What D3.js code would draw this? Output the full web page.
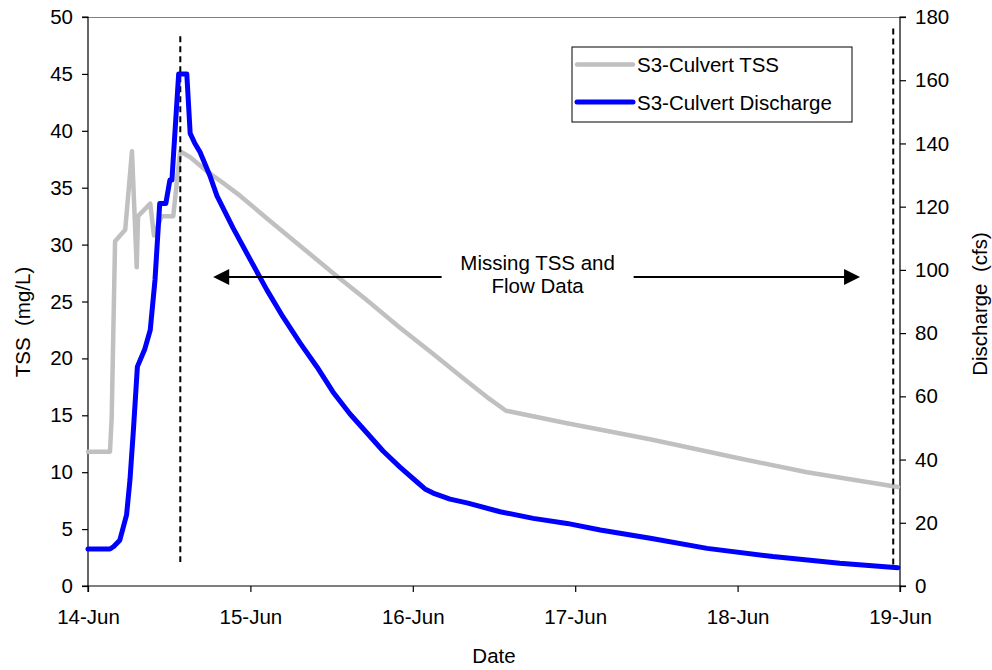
<!DOCTYPE html>
<html>
<head>
<meta charset="utf-8">
<script src="https://cdn.jsdelivr.net/npm/d3@7"></script>
<style>
  html, body { margin: 0; padding: 0; background: #fff; }
  svg { display: block; font-family: Arial, "Liberation Sans", sans-serif; }
</style>
</head>
<body>
<svg id="chart" width="992" height="670"></svg>
<script>
// ---- Data (hours since 14-Jun 00:00) ----
const tssHours = [0, 3.25, 3.5, 4.0, 5.5, 6.5, 7.2, 7.4, 9.2, 9.75, 10.9, 12.6, 13.6, 15.07, 17.66, 20.0, 22.46, 26.45, 31.33, 36.2, 41.23, 46.1, 50.98, 56.0, 58.96, 61.77, 70.79, 83.05, 96.35, 106.25, 119.7];
const tssValues = [11.8, 11.8, 14.8, 30.3, 31.3, 38.2, 28.0, 32.5, 33.6, 30.8, 32.5, 32.5, 38.2, 37.7, 36.4, 35.4, 34.3, 32.3, 29.9, 27.5, 25.1, 22.7, 20.4, 18.0, 16.6, 15.4, 14.3, 12.9, 11.2, 10.0, 8.7];

const qHours = [0, 3.25, 3.8, 4.7, 5.7, 6.2, 6.7, 7.3, 8.4, 9.2, 9.9, 10.6, 11.5, 12.1, 12.4, 13.4, 14.6, 15.1, 15.8, 16.55, 18.03, 19.06, 21.43, 23.94, 26.45, 28.82, 31.33, 33.84, 36.2, 38.72, 41.23, 43.6, 46.1, 48.62, 49.8, 51.0, 53.5, 56.0, 60.9, 65.8, 70.8, 75.7, 83.1, 91.5, 101.2, 111.1, 119.7];
const qValues = [11.7, 11.7, 12.5, 14.5, 22.5, 33.5, 49.0, 69.4, 75.0, 81.0, 96.8, 121.0, 121.0, 128.4, 128.4, 162.0, 162.0, 143.2, 140.0, 137.3, 129.7, 123.4, 113.3, 103.4, 93.6, 85.1, 76.9, 69.3, 61.4, 54.4, 48.4, 42.7, 37.6, 32.9, 30.7, 29.4, 27.5, 26.3, 23.5, 21.4, 19.8, 17.7, 15.1, 11.9, 9.3, 7.2, 5.8];

const xTickHours = [0, 24, 48, 72, 96, 120];
const xTickLabels = ["14-Jun", "15-Jun", "16-Jun", "17-Jun", "18-Jun", "19-Jun"];
const tssTicks = [0, 5, 10, 15, 20, 25, 30, 35, 40, 45, 50];
const qTicks = [0, 20, 40, 60, 80, 100, 120, 140, 160, 180];

const seriesNames = ["S3-Culvert TSS", "S3-Culvert Discharge"];
const seriesColors = ["#c0c0c0", "#0000ff"];

// dashed markers: [hour, tssTop, tssBottom]
const dashedMarkers = [[13.64, 48.3, 2.1], [119.0, 49.0, 1.6]];
// arrow: hours from/to, level (TSS units)
const arrowSpan = [18.5, 114.1];
const arrowLevel = 27.15;
const annotationLines = ["Missing TSS and", "Flow Data"];

// ---- Layout ----
const W = 992, H = 670;
const m = { left: 88, right: 92, top: 17, bottom: 84 };
const iw = W - m.left - m.right, ih = H - m.top - m.bottom;

const svg = d3.select("#chart");
const g = svg.append("g").attr("transform", `translate(${m.left},${m.top})`);

const x = d3.scaleLinear().domain([0, 120]).range([0, iw]);
const yL = d3.scaleLinear().domain([0, 50]).range([ih, 0]);
const yR = d3.scaleLinear().domain([0, 180]).range([ih, 0]);

const FS = 20.5;

// top border
g.append("line").attr("x1", 0).attr("x2", iw).attr("y1", 0.5).attr("y2", 0.5)
  .attr("stroke", "#808080").attr("stroke-width", 1.2);

// axes
const axL = g.append("g").call(d3.axisLeft(yL).tickValues(tssTicks).tickSize(6).tickPadding(9));
const axR = g.append("g").attr("transform", `translate(${iw},0)`)
  .call(d3.axisRight(yR).tickValues(qTicks).tickSize(6).tickPadding(9));
const axB = g.append("g").attr("transform", `translate(0,${ih})`)
  .call(d3.axisBottom(x).tickValues(xTickHours).tickFormat((d, i) => xTickLabels[i]).tickSize(6).tickPadding(17));
[axL, axR, axB].forEach(a => {
  a.selectAll("path").attr("stroke", "#000").attr("stroke-width", 1.2);
  a.selectAll("line").attr("stroke", "#000").attr("stroke-width", 1.2);
  a.selectAll("text").attr("font-size", FS).attr("fill", "#000").attr("font-family", "Arial, 'Liberation Sans', sans-serif");
});
axL.select(".domain").attr("d", `M-6,${ih}H0V0H-6`);
axR.select(".domain").attr("d", `M6,${ih}H0V0H6`);
axB.select(".domain").attr("d", `M0,6V0H${iw}V6`);

// lines
const lineTss = d3.line().x((d, i) => x(tssHours[i])).y(d => yL(d));
const lineQ = d3.line().x((d, i) => x(qHours[i])).y(d => yR(d));

g.append("path").datum(tssValues).attr("d", lineTss)
  .attr("fill", "none").attr("stroke", seriesColors[0]).attr("stroke-width", 4.5)
  .attr("stroke-linejoin", "round").attr("stroke-linecap", "round");

// dashed markers
g.selectAll(".dash").data(dashedMarkers).enter().append("line")
  .attr("x1", d => x(d[0])).attr("x2", d => x(d[0]))
  .attr("y1", d => yL(d[1])).attr("y2", d => yL(d[2]))
  .attr("stroke", "#000").attr("stroke-width", 2).attr("stroke-dasharray", "6,4");

g.append("path").datum(qValues).attr("d", lineQ)
  .attr("fill", "none").attr("stroke", seriesColors[1]).attr("stroke-width", 5)
  .attr("stroke-linejoin", "round").attr("stroke-linecap", "round");

// arrow annotation
const ay = yL(arrowLevel);
const ax0 = x(arrowSpan[0]), ax1 = x(arrowSpan[1]);
const midX = (ax0 + ax1) / 2 + 1;
const gapHalf = 96;
g.append("line").attr("x1", ax0 + 14).attr("x2", midX - gapHalf).attr("y1", ay).attr("y2", ay)
  .attr("stroke", "#000").attr("stroke-width", 2);
g.append("line").attr("x1", midX + gapHalf).attr("x2", ax1 - 14).attr("y1", ay).attr("y2", ay)
  .attr("stroke", "#000").attr("stroke-width", 2);
g.append("path").attr("d", `M${ax0},${ay}L${ax0 + 16},${ay - 8}L${ax0 + 16},${ay + 8}Z`).attr("fill", "#000");
g.append("path").attr("d", `M${ax1},${ay}L${ax1 - 16},${ay - 8}L${ax1 - 16},${ay + 8}Z`).attr("fill", "#000");
g.append("text").attr("x", midX).attr("y", ay - 7).attr("text-anchor", "middle")
  .attr("font-size", FS).text(annotationLines[0]);
g.append("text").attr("x", midX).attr("y", ay + 16).attr("text-anchor", "middle")
  .attr("font-size", FS).text(annotationLines[1]);

// legend
const lg = svg.append("g").attr("transform", "translate(572,47)");
lg.append("rect").attr("x", 0).attr("y", 0).attr("width", 280).attr("height", 75)
  .attr("fill", "#fff").attr("stroke", "#000").attr("stroke-width", 1);
seriesNames.forEach((name, i) => {
  const yy = 17.5 + i * 37.5;
  lg.append("line").attr("x1", 5).attr("x2", 61).attr("y1", yy).attr("y2", yy)
    .attr("stroke", seriesColors[i]).attr("stroke-width", i === 0 ? 4.5 : 5).attr("stroke-linecap", "round");
  lg.append("text").attr("x", 65).attr("y", yy + 7.5).attr("font-size", FS).text(name);
});

// axis titles
svg.append("text").attr("x", m.left + iw / 2).attr("y", 663).attr("text-anchor", "middle")
  .attr("font-size", FS).text("Date");
svg.append("text").attr("transform", `translate(30,322) rotate(-90)`).attr("text-anchor", "middle")
  .attr("font-size", FS).style("white-space", "pre").text("TSS  (mg/L)");
svg.append("text").attr("transform", `translate(987,304) rotate(-90)`).attr("text-anchor", "middle")
  .attr("font-size", FS).style("white-space", "pre").text("Discharge  (cfs)");
</script>
</body>
</html>
